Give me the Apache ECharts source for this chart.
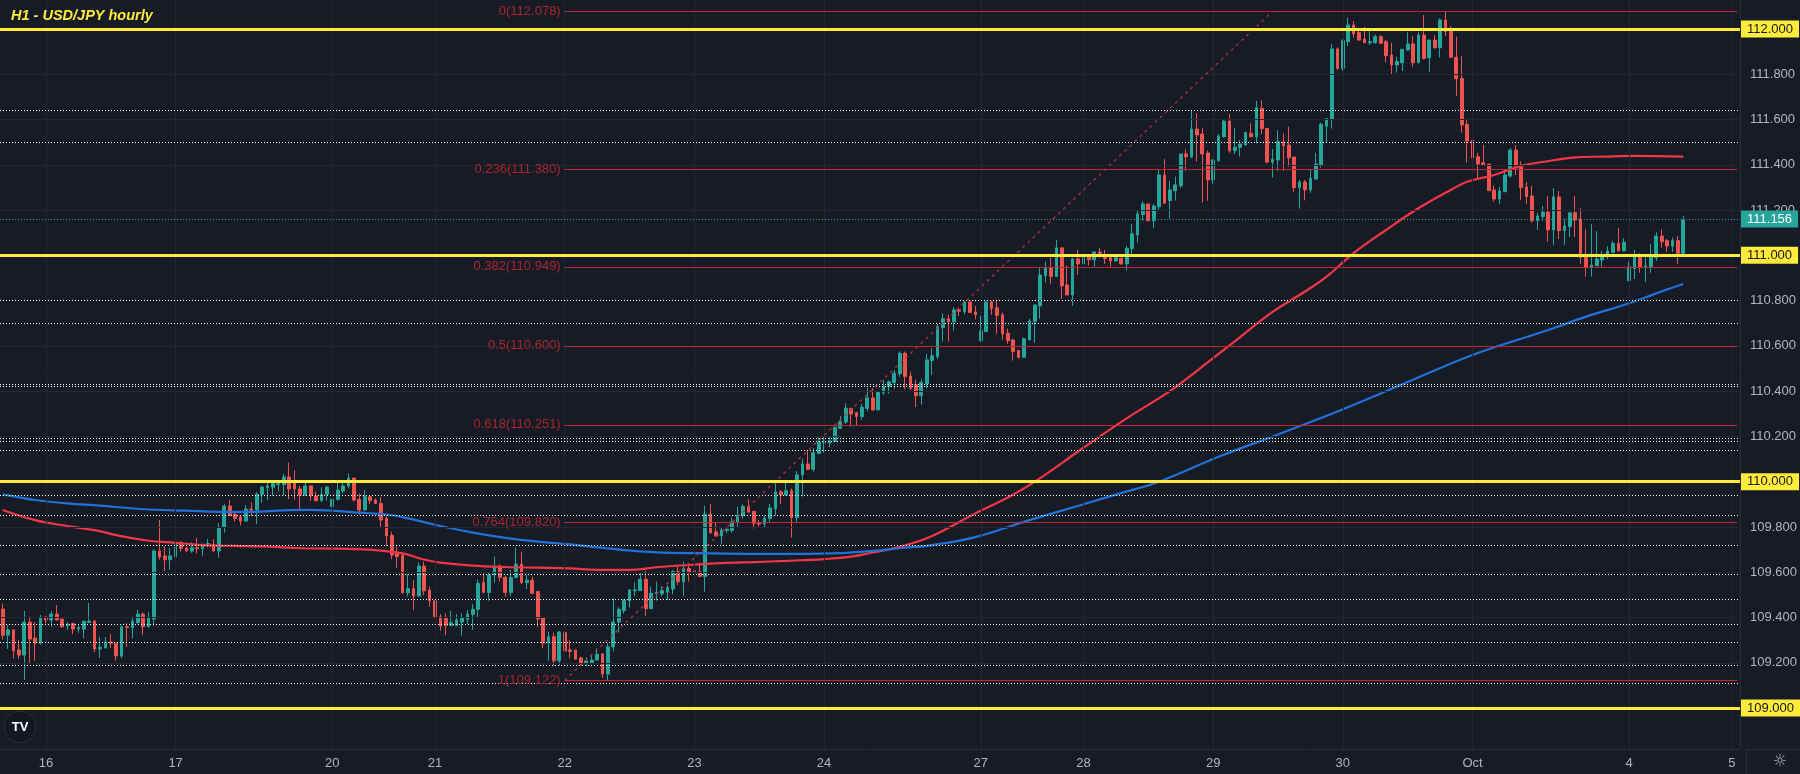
<!DOCTYPE html>
<html><head><meta charset="utf-8">
<script src="https://cdn.jsdelivr.net/npm/echarts@6/dist/echarts.min.js"></script>
<style>html,body{margin:0;padding:0;background:#171b26;}#c{width:1800px;height:774px;}</style>
</head><body><div id="c"></div><script>
// ---- data ----
const opens = [
109.437,109.322,109.345,109.256,109.234,109.380,109.309,109.287,109.402,109.389,
109.415,109.393,109.362,109.373,109.350,109.349,109.378,109.384,109.261,109.265,
109.292,109.286,109.230,109.359,109.355,109.378,109.415,109.359,109.393,109.694,
109.672,109.655,109.669,109.730,109.707,109.694,109.708,109.704,109.719,109.724,
109.694,109.798,109.892,109.857,109.845,109.826,109.879,109.875,109.944,109.973,
109.976,109.987,109.987,110.021,110.004,109.968,109.941,109.981,109.937,109.916,
109.944,109.889,109.922,109.959,109.981,110.016,109.922,109.875,109.934,109.919,
109.904,109.838,109.763,109.683,109.674,109.509,109.527,109.495,109.627,109.521,
109.474,109.403,109.396,109.365,109.365,109.380,109.392,109.414,109.436,109.554,
109.511,109.588,109.627,109.577,109.511,109.577,109.636,109.554,109.565,109.514,
109.399,109.286,109.315,109.209,109.333,109.256,109.256,109.221,109.197,109.200,
109.212,109.239,109.150,109.270,109.380,109.430,109.473,109.518,109.519,109.569,
109.439,109.505,109.505,109.512,109.526,109.603,109.558,109.617,109.606,109.601,
109.581,109.857,109.778,109.760,109.784,109.784,109.822,109.851,109.890,109.869,
109.819,109.813,109.837,109.881,109.955,109.941,109.960,109.841,110.030,110.078,
110.055,110.125,110.172,110.172,110.177,110.236,110.264,110.324,110.305,110.288,
110.324,110.370,110.317,110.394,110.420,110.438,110.477,110.567,110.467,110.428,
110.380,110.432,110.535,110.553,110.681,110.720,110.706,110.759,110.751,110.794,
110.750,110.623,110.663,110.794,110.768,110.737,110.656,110.626,110.579,110.550,
110.626,110.707,110.776,110.910,110.946,110.906,111.033,110.869,110.825,110.984,
110.962,110.994,110.980,111.015,111.002,110.990,110.975,110.987,110.962,111.030,
111.090,111.180,111.227,111.153,111.215,111.355,111.242,111.285,111.307,111.448,
111.435,111.558,111.536,111.452,111.333,111.418,111.524,111.593,111.462,111.477,
111.487,111.539,111.524,111.649,111.560,111.412,111.421,111.502,111.487,111.434,
111.299,111.324,111.289,111.337,111.398,111.571,111.601,111.912,111.826,111.944,
112.018,111.984,111.956,111.939,111.939,111.966,111.944,111.885,111.841,111.851,
111.907,111.934,111.851,111.973,111.873,111.951,111.917,112.040,111.995,111.875,
111.782,111.579,111.509,111.436,111.409,111.403,111.289,111.249,111.281,111.350,
111.465,111.399,111.302,111.262,111.153,111.171,111.191,111.112,111.258,111.109,
111.127,111.188,111.160,110.994,110.947,110.954,110.979,110.994,111.013,111.053,
111.020,110.888,110.942,110.994,110.950,110.950,110.990,111.085,111.065,111.041,
111.065,111.009];
const closes = [
109.322,109.345,109.253,109.234,109.380,109.305,109.287,109.402,109.389,109.415,
109.389,109.359,109.370,109.349,109.355,109.384,109.384,109.261,109.268,109.292,
109.286,109.230,109.359,109.355,109.384,109.415,109.359,109.398,109.694,109.667,
109.655,109.672,109.733,109.705,109.694,109.708,109.704,109.723,109.727,109.694,
109.798,109.892,109.850,109.838,109.826,109.879,109.875,109.944,109.976,109.981,
109.991,109.991,110.021,109.968,109.968,109.941,109.981,109.937,109.916,109.944,
109.976,109.922,109.963,109.981,110.016,109.919,109.875,109.934,109.916,109.904,
109.831,109.760,109.676,109.669,109.509,109.527,109.495,109.627,109.518,109.474,
109.403,109.362,109.365,109.377,109.389,109.399,109.415,109.436,109.551,109.511,
109.588,109.627,109.577,109.511,109.577,109.636,109.554,109.565,109.507,109.393,
109.286,109.315,109.209,109.336,109.252,109.250,109.216,109.197,109.208,109.212,
109.238,109.150,109.270,109.380,109.436,109.477,109.522,109.522,109.569,109.439,
109.507,109.510,109.519,109.532,109.603,109.558,109.617,109.601,109.598,109.581,
109.857,109.775,109.760,109.787,109.790,109.822,109.851,109.890,109.866,109.816,
109.813,109.840,109.884,109.955,109.941,109.960,109.841,110.030,110.078,110.055,
110.128,110.176,110.176,110.181,110.240,110.265,110.324,110.299,110.288,110.329,
110.370,110.317,110.396,110.420,110.441,110.479,110.567,110.464,110.413,110.380,
110.438,110.538,110.556,110.685,110.720,110.706,110.759,110.753,110.794,110.747,
110.738,110.667,110.794,110.765,110.735,110.653,110.623,110.575,110.550,110.631,
110.710,110.781,110.913,110.946,110.906,111.033,110.865,110.825,110.984,110.962,
110.994,110.980,111.015,111.009,110.986,110.975,110.990,110.962,111.031,111.095,
111.183,111.227,111.153,111.218,111.355,111.230,111.289,111.311,111.448,111.435,
111.558,111.532,111.448,111.333,111.421,111.527,111.593,111.462,111.478,111.492,
111.542,111.524,111.652,111.560,111.412,111.425,111.502,111.484,111.431,111.299,
111.324,111.289,111.340,111.403,111.579,111.604,111.912,111.826,111.948,112.018,
111.979,111.951,111.939,111.944,111.966,111.937,111.882,111.841,111.856,111.910,
111.934,111.851,111.973,111.870,111.951,111.917,112.040,111.988,111.875,111.780,
111.576,111.505,111.431,111.403,111.398,111.286,111.249,111.284,111.355,111.465,
111.395,111.299,111.259,111.153,111.174,111.191,111.112,111.258,111.109,111.130,
111.188,111.156,110.990,110.947,110.957,110.984,110.994,111.019,111.053,111.020,
111.057,110.950,110.994,110.950,110.954,111.001,111.085,111.060,111.041,111.065,
111.009,111.156];
const lows = [
109.303,109.261,109.219,109.216,109.124,109.200,109.209,109.280,109.374,109.359,
109.388,109.355,109.345,109.327,109.333,109.309,109.375,109.247,109.221,109.265,
109.265,109.209,109.221,109.271,109.309,109.372,109.322,109.356,109.364,109.655,
109.607,109.611,109.661,109.691,109.691,109.686,109.683,109.673,109.710,109.691,
109.663,109.775,109.850,109.823,109.807,109.826,109.848,109.813,109.907,109.919,
109.937,109.959,109.941,109.923,109.919,109.872,109.937,109.914,109.913,109.911,
109.916,109.872,109.916,109.948,109.970,109.912,109.853,109.872,109.901,109.901,
109.801,109.716,109.657,109.620,109.507,109.492,109.433,109.492,109.499,109.448,
109.396,109.342,109.321,109.362,109.362,109.320,109.371,109.345,109.399,109.507,
109.474,109.554,109.560,109.492,109.495,109.573,109.548,109.526,109.504,109.359,
109.264,109.209,109.187,109.187,109.241,109.219,109.216,109.187,109.187,109.197,
109.208,109.133,109.122,109.250,109.333,109.418,109.444,109.495,109.519,109.408,
109.439,109.474,109.495,109.477,109.502,109.544,109.495,109.558,109.591,109.581,
109.514,109.769,109.757,109.725,109.772,109.775,109.801,109.837,109.863,109.793,
109.801,109.798,109.822,109.851,109.902,109.941,109.753,109.822,109.934,110.052,
110.045,110.125,110.128,110.152,110.176,110.232,110.255,110.243,110.249,110.273,
110.310,110.314,110.317,110.383,110.388,110.411,110.464,110.408,110.405,110.330,
110.340,110.413,110.472,110.541,110.619,110.619,110.667,110.732,110.740,110.747,
110.718,110.619,110.663,110.737,110.653,110.626,110.609,110.535,110.544,110.550,
110.626,110.614,110.720,110.880,110.875,110.906,110.807,110.825,110.776,110.913,
110.918,110.955,110.950,110.990,110.962,110.950,110.972,110.958,110.933,111.006,
111.056,111.153,111.151,111.120,111.201,111.227,111.162,111.242,111.298,111.374,
111.429,111.414,111.234,111.241,111.317,111.414,111.520,111.453,111.448,111.436,
111.484,111.521,111.495,111.536,111.406,111.343,111.374,111.373,111.392,111.278,
111.206,111.243,111.277,111.333,111.387,111.498,111.560,111.819,111.816,111.925,
111.962,111.948,111.937,111.929,111.934,111.934,111.853,111.797,111.807,111.814,
111.904,111.833,111.848,111.866,111.811,111.914,111.875,111.969,111.875,111.704,
111.542,111.409,111.414,111.333,111.395,111.286,111.237,111.227,111.281,111.343,
111.355,111.244,111.227,111.144,111.112,111.153,111.060,111.045,111.072,111.045,
111.081,111.081,110.962,110.906,110.906,110.954,110.950,110.984,111.009,111.016,
111.016,110.888,110.895,110.923,110.883,110.923,110.976,111.034,111.016,111.016,
110.962,111.006];
const highs = [
109.462,109.367,109.348,109.300,109.429,109.404,109.381,109.411,109.406,109.429,
109.455,109.395,109.380,109.377,109.367,109.384,109.464,109.389,109.315,109.314,
109.327,109.288,109.365,109.375,109.404,109.433,109.423,109.424,109.702,109.831,
109.713,109.707,109.738,109.738,109.713,109.732,109.750,109.727,109.747,109.747,
109.817,109.901,109.919,109.867,109.848,109.897,109.909,109.954,109.981,110.001,
109.995,110.001,110.035,110.084,110.051,109.981,109.998,109.985,109.956,109.975,
109.981,109.941,109.995,109.995,110.037,110.016,109.948,109.963,109.941,109.926,
109.931,109.848,109.779,109.713,109.683,109.592,109.565,109.642,109.646,109.536,
109.474,109.415,109.418,109.429,109.415,109.418,109.433,109.458,109.568,109.598,
109.598,109.669,109.636,109.583,109.610,109.708,109.691,109.588,109.580,109.518,
109.399,109.337,109.333,109.340,109.352,109.300,109.256,109.227,109.224,109.234,
109.264,109.243,109.287,109.485,109.445,109.480,109.522,109.554,109.601,109.606,
109.536,109.558,109.539,109.544,109.610,109.625,109.647,109.632,109.632,109.642,
109.893,109.902,109.819,109.798,109.794,109.841,109.890,109.900,109.922,109.869,
109.831,109.852,109.902,109.993,109.963,110.000,109.970,110.047,110.100,110.136,
110.147,110.199,110.199,110.199,110.243,110.290,110.346,110.324,110.309,110.343,
110.413,110.413,110.396,110.449,110.447,110.494,110.575,110.575,110.485,110.450,
110.452,110.564,110.589,110.697,110.744,110.737,110.771,110.769,110.797,110.794,
110.776,110.732,110.794,110.800,110.803,110.747,110.676,110.632,110.582,110.637,
110.720,110.781,110.943,110.972,110.990,111.068,111.033,110.955,110.989,111.024,
111.000,110.994,111.019,111.033,111.024,110.994,110.994,110.990,111.042,111.139,
111.198,111.239,111.230,111.227,111.380,111.426,111.329,111.348,111.448,111.469,
111.638,111.627,111.562,111.462,111.427,111.536,111.601,111.624,111.562,111.509,
111.546,111.583,111.682,111.686,111.560,111.470,111.554,111.539,111.568,111.434,
111.333,111.333,111.377,111.453,111.586,111.605,111.932,111.919,111.954,112.050,
112.035,112.001,112.009,111.995,111.975,111.972,111.951,111.939,111.878,111.910,
111.985,111.969,111.985,112.062,111.951,111.973,112.047,112.077,112.013,111.966,
111.881,111.604,111.521,111.453,111.487,111.403,111.308,111.302,111.377,111.474,
111.487,111.415,111.324,111.306,111.188,111.218,111.262,111.297,111.284,111.159,
111.191,111.262,111.208,111.115,111.138,111.107,111.019,111.041,111.065,111.121,
111.076,110.972,111.023,111.009,110.994,111.050,111.101,111.115,111.072,111.079,
111.085,111.174];

const slotCount = 322;
const dayIdx = [8, 32, 61, 80, 104, 128, 152, 181, 200, 224, 248, 272, 301, 320];
const dayLabels = ['16', '17', '20', '21', '22', '23', '24', '27', '28', '29', '30', 'Oct', '4', '5'];
const priceTicks = [109.2, 109.4, 109.6, 109.8, 110.2, 110.4, 110.6, 110.8, 111.2, 111.4, 111.6, 111.8];
const gridPrices = [109.0, 109.2, 109.4, 109.6, 109.8, 110.0, 110.2, 110.4, 110.6, 110.8, 111.0, 111.2, 111.4, 111.6, 111.8, 112.0];
const yellowLevels = [112.0, 111.0, 110.0, 109.0];
const dottedLevels = [111.642, 111.505, 110.802, 110.700, 110.427, 110.417, 110.195, 110.184, 110.135, 109.939, 109.851, 109.715, 109.586, 109.484, 109.366, 109.287, 109.188, 109.112];
const fibRatios = ['0', '0.236', '0.382', '0.5', '0.618', '0.764', '1'];
const fibLevels = [112.078, 111.380, 110.949, 110.600, 110.251, 109.820, 109.122];
const fibStartIdx = 104;
const trendFrom = [104, 109.122];
const trendTo = [235, 112.078];
const lastPrice = 111.156;

const maRedIdx = [0, 6, 12, 17, 21, 27, 32, 37, 43, 49, 55, 62, 69, 74, 78, 81, 87, 93, 99, 105, 110, 116, 121, 127, 133, 139, 145, 152, 157, 161, 166, 172, 180, 186, 191, 200, 208, 216, 221, 228, 235, 241, 245, 250, 256, 262, 268, 271, 276, 281, 287, 291, 296, 302, 311];
const maRedVal = [109.875, 109.830, 109.804, 109.786, 109.764, 109.739, 109.730, 109.720, 109.716, 109.713, 109.706, 109.704, 109.698, 109.683, 109.656, 109.642, 109.629, 109.623, 109.620, 109.617, 109.610, 109.610, 109.622, 109.632, 109.640, 109.645, 109.650, 109.658, 109.669, 109.687, 109.712, 109.760, 109.860, 109.930, 110.000, 110.150, 110.280, 110.400, 110.490, 110.620, 110.750, 110.840, 110.906, 111.010, 111.112, 111.208, 111.289, 111.325, 111.355, 111.395, 111.420, 111.433, 111.436, 111.439, 111.436];
const maBlueIdx = [0, 6, 12, 18, 24, 28, 34, 40, 46, 52, 56, 61, 66, 71, 75, 81, 87, 93, 99, 105, 110, 115, 121, 129, 139, 147, 155, 161, 166, 172, 180, 190, 200, 207, 214, 225, 235, 247, 260, 272, 286, 293, 301, 306, 311];
const maBlueVal = [109.944, 109.919, 109.904, 109.894, 109.882, 109.876, 109.872, 109.867, 109.867, 109.873, 109.875, 109.872, 109.863, 109.855, 109.838, 109.804, 109.775, 109.752, 109.735, 109.723, 109.710, 109.698, 109.688, 109.684, 109.681, 109.681, 109.684, 109.694, 109.706, 109.720, 109.755, 109.830, 109.900, 109.950, 110.000, 110.110, 110.200, 110.310, 110.440, 110.560, 110.670, 110.729, 110.788, 110.832, 110.873];

// ---- build ----
const FONT = 'Liberation Sans, Arial, sans-serif';
const cats = Array.from({length: slotCount}, (_, i) => String(i));
const candles = opens.map((o, i) => [o, closes[i], lows[i], highs[i]]);
const redLine = maRedIdx.map((x, k) => [x, maRedVal[k]]);
const blueLine = maBlueIdx.map((x, k) => [x, maBlueVal[k]]);

const gridMarks = gridPrices.map(v => ({yAxis: v})).concat(dayIdx.map(i => ({xAxis: i})));

const tagLabel = (txt, bg, fg) => ({
  show: true, position: 'end', distance: 1, formatter: txt,
  backgroundColor: bg, color: fg, fontSize: 13, fontFamily: FONT,
  lineHeight: 13, padding: [2, 6, 2, 6]
});

const drawMarks = [];
dottedLevels.forEach(v => drawMarks.push({yAxis: v, lineStyle: {color: '#ffffff', type: [1, 2], width: 1}, label: {show: false}}));
fibLevels.forEach((v, k) => drawMarks.push([
  {coord: [fibStartIdx, v], lineStyle: {color: '#c2282f', width: 1, type: 'solid'},
   label: {show: true, position: 'start', distance: 4, formatter: fibRatios[k] + '(' + v.toFixed(3) + ')',
           color: '#a8262e', fontSize: 13, fontFamily: FONT}},
  {coord: [slotCount - 1, v]}
]));
drawMarks.push([
  {coord: trendFrom, lineStyle: {color: '#b3323b', width: 1.3, type: [3, 4]}, label: {show: false}},
  {coord: trendTo}
]);
drawMarks.push({yAxis: lastPrice, lineStyle: {color: '#26a69a', type: [1, 2], width: 1},
  label: tagLabel(lastPrice.toFixed(3), '#26a69a', '#ffffff')});
yellowLevels.forEach(v => drawMarks.push({yAxis: v, lineStyle: {color: '#ffeb3b', width: 3, type: 'solid'},
  label: tagLabel(v.toFixed(3), '#ffeb3b', '#131722')}));

const chart = echarts.init(document.getElementById('c'), null, {renderer: 'canvas'});
chart.setOption({
  animation: false,
  backgroundColor: '#171b26',
  title: {text: 'H1 - USD/JPY hourly', left: 6, top: 3,
    textStyle: {color: '#ffeb3b', fontSize: 14.5, fontStyle: 'italic', fontWeight: 'bold', fontFamily: FONT}},
  grid: {left: -2, top: 0, width: 1747.5, height: 749},
  xAxis: {
    type: 'category', data: cats, boundaryGap: true,
    axisLine: {show: true, lineStyle: {color: '#2a2e39'}},
    axisTick: {show: false}, splitLine: {show: false},
    axisLabel: {
      interval: (idx) => dayIdx.indexOf(idx) >= 0,
      formatter: (val, idx) => { const k = dayIdx.indexOf(Number(val)); return k >= 0 ? dayLabels[k] : ''; },
      color: '#b2b5be', fontSize: 13, fontFamily: FONT, margin: 8
    }
  },
  yAxis: {
    type: 'value', position: 'right', min: 108.819, max: 112.128,
    axisLine: {show: true, lineStyle: {color: '#2a2e39'}},
    axisTick: {show: false}, splitLine: {show: false},
    axisLabel: {customValues: priceTicks, formatter: v => v.toFixed(3),
      color: '#b2b5be', fontSize: 13, fontFamily: FONT, margin: 10}
  },
  series: [
    {type: 'line', name: 'grid', data: [], z: 1, silent: true,
     markLine: {silent: true, symbol: ['none', 'none'], animation: false, label: {show: false},
       lineStyle: {color: '#232733', width: 1, type: 'solid'}, data: gridMarks}},
    {type: 'candlestick', name: 'USDJPY', data: candles, z: 2, barWidth: 3.2,
     itemStyle: {color: '#26a69a', color0: '#ef5350', borderColor: '#26a69a', borderColor0: '#ef5350', borderWidth: 1}},
    {type: 'line', name: 'MA red', data: redLine, z: 3, smooth: 0.4, showSymbol: false, silent: true,
     lineStyle: {color: '#f23645', width: 2.2}},
    {type: 'line', name: 'MA blue', data: blueLine, z: 3, smooth: 0.4, showSymbol: false, silent: true,
     lineStyle: {color: '#2171d8', width: 2.2}},
    {type: 'line', name: 'drawings', data: [], z: 4, silent: true,
     markLine: {silent: true, symbol: ['none', 'none'], animation: false, label: {show: false}, data: drawMarks}}
  ],
  graphic: [
    {type: 'line', silent: true, shape: {x1: 1746.5, y1: 749, x2: 1746.5, y2: 774}, style: {stroke: '#2a2e39', lineWidth: 1}},
    {type: 'line', silent: true, shape: {x1: 1746, y1: 749.5, x2: 1800, y2: 749.5}, style: {stroke: '#2a2e39', lineWidth: 1}},
    {type: 'circle', silent: true, shape: {cx: 20, cy: 727, r: 16}, style: {fill: '#131722', stroke: '#2a2e39', lineWidth: 1}},
    {type: 'text', silent: true, x: 20, y: 727, style: {text: 'TV', fill: '#ffffff', font: 'bold 13px ' + FONT, align: 'center', verticalAlign: 'middle'}},
    {type: 'text', silent: true, x: 1780, y: 762, style: {text: '☼', fill: '#b2b5be', font: '16px DejaVu Sans', align: 'center', verticalAlign: 'middle'}}
  ]
});
</script></body></html>
